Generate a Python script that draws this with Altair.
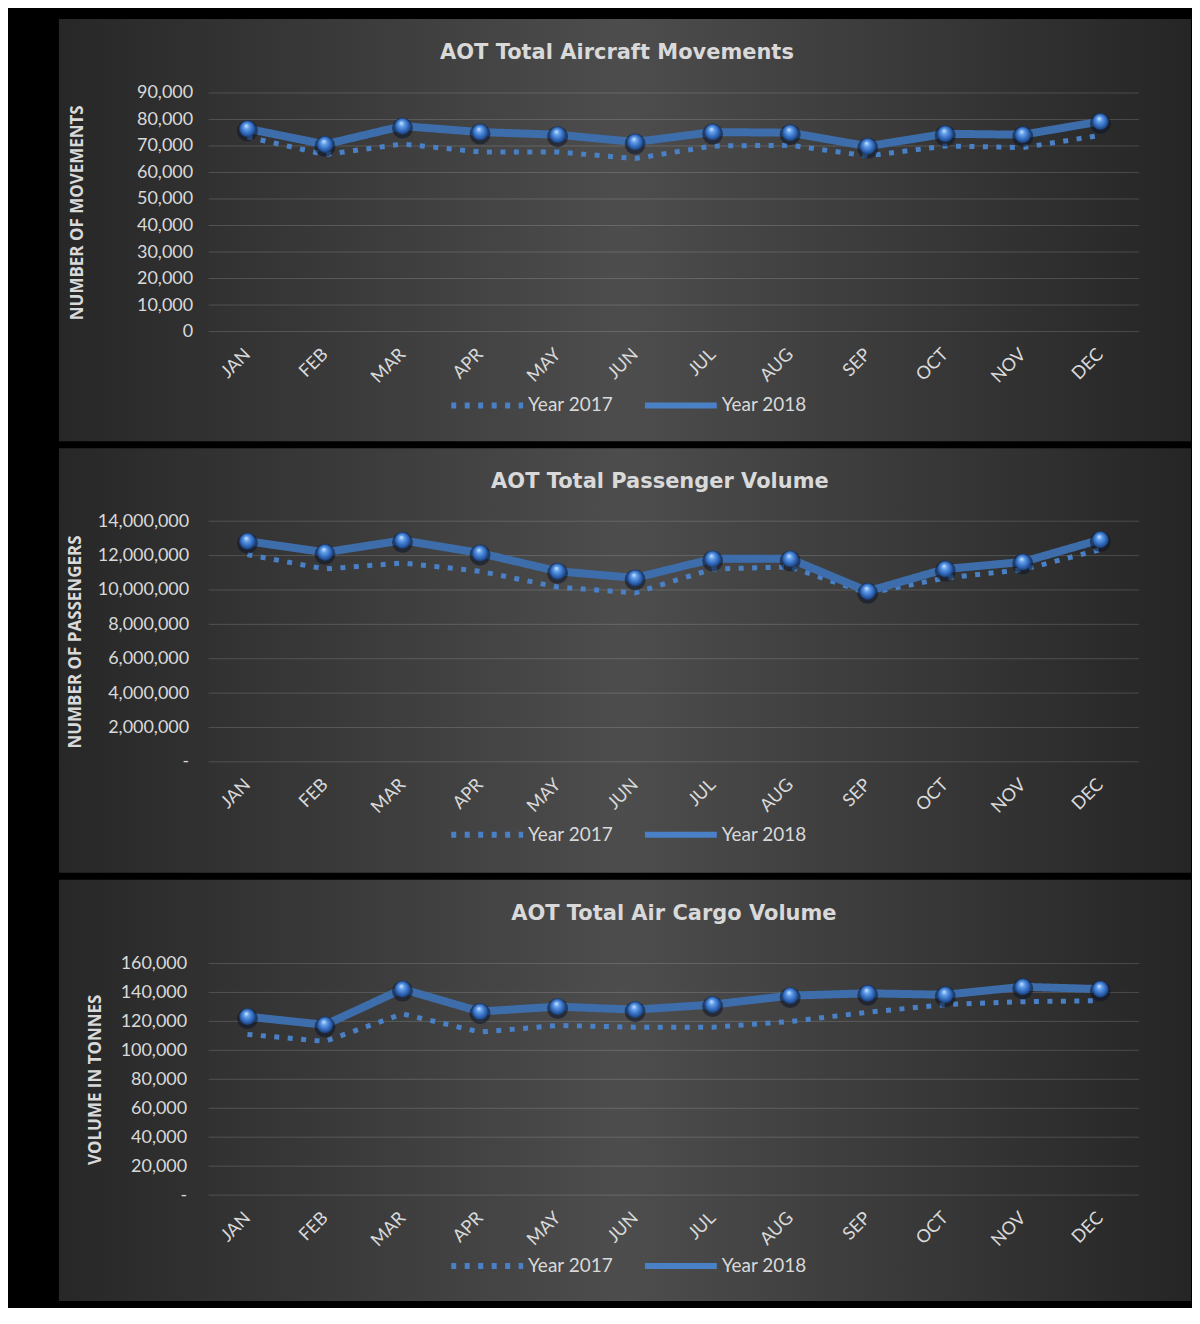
import altair as alt
import pandas as pd

months = ["JAN", "FEB", "MAR", "APR", "MAY", "JUN", "JUL", "AUG", "SEP", "OCT", "NOV", "DEC"]
years = ["Year 2017", "Year 2018"]

mov_2017 = [73400, 66750, 70750, 67750, 67750, 65250, 70000, 70250, 66250, 70000, 69400, 74000]
mov_2018 = [76500, 70600, 77500, 75250, 74250, 71500, 75250, 75000, 69900, 74600, 74250, 79250]
mov_ticks = [0, 10000, 20000, 30000, 40000, 50000, 60000, 70000, 80000, 90000]

pax_2017 = [12060000, 11220000, 11570000, 11090000, 10170000, 9830000, 11220000, 11340000, 9800000, 10700000, 11180000, 12350000]
pax_2018 = [12840000, 12190000, 12890000, 12150000, 11090000, 10700000, 11810000, 11810000, 9920000, 11220000, 11630000, 12930000]
pax_ticks = [0, 2000000, 4000000, 6000000, 8000000, 10000000, 12000000, 14000000]

cargo_2017 = [111000, 106200, 125200, 112600, 117200, 116000, 116000, 119900, 126300, 131600, 133600, 134300]
cargo_2018 = [123300, 117600, 142300, 126800, 130200, 128100, 131600, 137800, 139400, 138400, 143900, 142300]
cargo_ticks = [0, 20000, 40000, 60000, 80000, 100000, 120000, 140000, 160000]

TXT = "#d9d9d9"
C17 = "#4a80c6"
C18 = "#3d6eab"
W = 932

BG_GRAD = alt.LinearGradient(
    gradient="linear",
    stops=[alt.GradientStop(color="#272727", offset=0),
           alt.GradientStop(color="#4d4d4d", offset=0.5),
           alt.GradientStop(color="#252525", offset=1)],
    x1=0, x2=1, y1=0, y2=0)

SPHERE = alt.RadialGradient(
    gradient="radial",
    stops=[alt.GradientStop(color="#d0e8ff", offset=0),
           alt.GradientStop(color="#64a0ea", offset=0.3),
           alt.GradientStop(color="#2f66b8", offset=0.7),
           alt.GradientStop(color="#173a73", offset=1)],
    x1=0.42, y1=0.3, r1=0, x2=0.5, y2=0.5, r2=0.55)


def make_panel(v17, v18, ticks, title_text, title_x, title_y, y_title, y_title_x,
               zero_dash, H, rect_top, rect_bottom, label_pad, leg_y):
    df = pd.DataFrame({
        "month": months * 2,
        "series": [years[0]] * 12 + [years[1]] * 12,
        "value": list(v17) + list(v18),
    })
    yscale = alt.Scale(domain=[0, ticks[-1]], nice=False)
    if zero_dash:
        lexpr = "datum.value == 0 ? '-' : format(datum.value, ',')"
    else:
        lexpr = "format(datum.value, ',')"
    yaxis = alt.Axis(values=ticks, labelExpr=lexpr, grid=False, domain=False,
                     ticks=False, labelPadding=label_pad, labelFontSize=18,
                     labelColor=TXT, titleX=y_title_x, titleFontSize=17,
                     titleFont="Open Sans", titleFontWeight="bold", titleColor=TXT,
                     titleBaseline="middle", zindex=2)
    xenc = alt.X("month:O", sort=months, scale=alt.Scale(padding=0.5),
                 axis=alt.Axis(title=None, labelAngle=315, labelFontSize=18, labelColor=TXT,
                               labelPadding=20, domain=False, ticks=False, grid=False,
                               labelAlign="right", labelBaseline="middle", zindex=2))
    yenc = alt.Y("value:Q", scale=yscale, title=y_title, axis=yaxis)
    dash = alt.StrokeDash(
        "series:N",
        scale=alt.Scale(domain=years, range=[[5, 8.5], [1, 0]]),
        legend=alt.Legend(title=None, orient="none", legendX=240, legendY=leg_y,
                          direction="horizontal", symbolType="stroke", symbolSize=5184,
                          symbolStrokeWidth=6, symbolStrokeColor=C17, labelFontSize=19,
                          labelColor=TXT, labelOffset=2, columnPadding=19, padding=0))

    bg = alt.Chart(alt.Data(values=[{"k": 0}])).mark_rect(fill=BG_GRAD).encode(
        x=alt.value(-150), x2=alt.value(W + 52),
        y=alt.value(rect_top), y2=alt.value(H + rect_bottom))
    grid = alt.Chart(pd.DataFrame({"value": ticks})).mark_rule(
        color="white", opacity=0.16, strokeWidth=1).encode(
        y=alt.Y("value:Q", scale=yscale, title=y_title, axis=yaxis),
        x=alt.value(0), x2=alt.value(W))
    ttl = alt.Chart(pd.DataFrame({"t": [title_text]})).mark_text(
        font="DejaVu Sans", fontWeight="bold", fontSize=21, color=TXT,
        align="center", baseline="middle").encode(
        text="t:N", x=alt.value(title_x), y=alt.value(title_y))
    d17 = df[df.series == years[0]]
    d18 = df[df.series == years[1]]
    line17 = alt.Chart(d17).mark_line(strokeWidth=5, color=C17, strokeCap="butt").encode(
        x=xenc, y=yenc, strokeDash=dash)
    line18 = alt.Chart(d18).mark_line(strokeWidth=8, color=C18, strokeJoin="round").encode(
        x=xenc, y=yenc, strokeDash=dash)
    shadow = alt.Chart(d18).mark_point(filled=True, color="#0b1426", opacity=0.55,
                                       size=440, yOffset=2).encode(x=xenc, y=yenc)
    spheres = alt.Chart(d18).mark_point(filled=True, fill=SPHERE, opacity=1, size=260,
                                        stroke="#1d4580", strokeWidth=0.5).encode(x=xenc, y=yenc)
    return alt.layer(bg, grid, ttl, line17, line18, shadow, spheres).properties(width=W, height=H)


p1 = make_panel(mov_2017, mov_2018, mov_ticks, "AOT Total Aircraft Movements", 409, -40,
                "NUMBER OF MOVEMENTS", -131, False, 239, -74, 110, 16, 274)
p2 = make_panel(pax_2017, pax_2018, pax_ticks, "AOT Total Passenger Volume", 452, -39,
                "NUMBER OF PASSENGERS", -133, True, 241, -73, 111, 20, 275)
p3 = make_panel(cargo_2017, cargo_2018, cargo_ticks, "AOT Total Air Cargo Volume", 466, -50,
                "VOLUME IN TONNES", -113, True, 232, -84, 106, 22, 264)

chart = alt.vconcat(p1, p2, p3, spacing=5).resolve_legend(
    strokeDash="independent"
).resolve_scale(
    strokeDash="independent"
).properties(
    padding={"left": 50, "top": 9, "right": 0, "bottom": 5},
    background="black",
).configure_view(stroke=None).configure(font="Lato")

chart.save("out.html", embed_options={"renderer": "svg", "actions": False})
